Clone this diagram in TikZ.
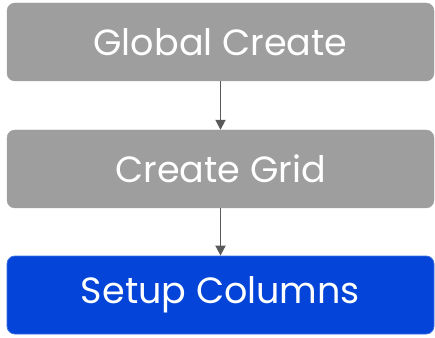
\documentclass[tikz,border=0pt]{standalone}
\usepackage{fontspec}
\setmainfont{Poppins}
\usetikzlibrary{arrows.meta}
\definecolor{boxgray}{HTML}{9E9E9E}
\definecolor{boxblue}{HTML}{0444D8}
\definecolor{blueedge}{HTML}{3A6EE0}
\definecolor{arrowgray}{HTML}{5A5A5A}
\tikzset{
  box/.style={rounded corners=8pt, minimum width=427pt, minimum height=78pt, inner sep=0pt,
    font=\fontsize{36.5}{40}\selectfont, text=white},
  graybox/.style={box, fill=boxgray, draw=boxgray},
  bluebox/.style={box, fill=boxblue, draw=blueedge, line width=0.8pt},
  conn/.style={draw=arrowgray, line width=1.8pt, -{Triangle[length=10pt,width=10pt]}}
}
\begin{document}
\begin{tikzpicture}[x=1pt,y=1pt]
\useasboundingbox (0,0) rectangle (435,337);
\node[graybox] (a) at (220.5,295) {Global Create};
\node[graybox] (b) at (220.5,168) {Create Grid};
\node[bluebox] (c) at (220.5,42) {Setup Columns};
\draw[conn] (a) -- (b);
\draw[conn] (b) -- (c);
\end{tikzpicture}
\end{document}
